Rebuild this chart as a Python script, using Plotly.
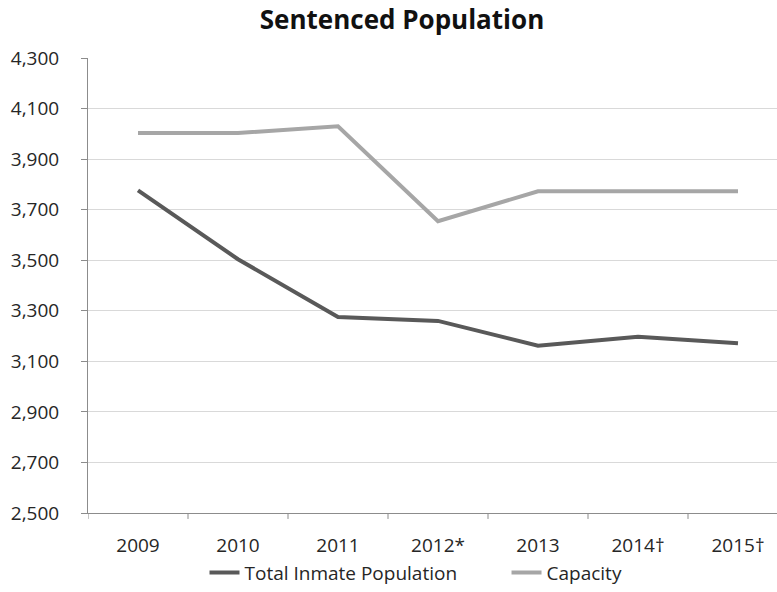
import plotly.graph_objects as go

years = ["2009", "2010", "2011", "2012*", "2013", "2014\u2020", "2015\u2020"]
total_inmates = [3776, 3504, 3275, 3260, 3162, 3197, 3172]
capacity = [4003, 4003, 4030, 3654, 3773, 3773, 3773]
y_ticks = list(range(2500, 4301, 200))

FONT = "'Open Sans', Lato, sans-serif"
GAP = "\u00a0" * 9  # extra room between the two legend entries

fig = go.Figure()
fig.add_trace(go.Scatter(
    x=list(range(len(years))), y=total_inmates, mode="lines",
    name="Total Inmate Population" + GAP,
    line=dict(color="#595959", width=4),
))
fig.add_trace(go.Scatter(
    x=list(range(len(years))), y=capacity, mode="lines",
    name="Capacity",
    line=dict(color="#a6a6a6", width=4),
))

fig.update_layout(
    width=777, height=592,
    margin=dict(l=88, r=0, t=58, b=75),
    paper_bgcolor="white", plot_bgcolor="white",
    font=dict(family=FONT, size=19, color="#262626"),
    title=dict(text="<b>Sentenced Population</b>", x=402 / 777, xref="container",
               xanchor="center", y=1 - 20 / 592, yref="container", yanchor="middle",
               font=dict(family=FONT, size=26, color="#111111")),
    showlegend=True,
    legend=dict(orientation="h", x=(416 - 88) / 689, xanchor="center",
                y=-0.131, yanchor="middle",
                font=dict(family=FONT, size=19, color="#262626"),
                tracegroupgap=0, bgcolor="rgba(0,0,0,0)"),
    xaxis=dict(
        range=[-0.5, 6.39], tickmode="array",
        tickvals=list(range(len(years))), ticktext=years,
        showgrid=False, zeroline=False,
        showline=True, linecolor="#8c8c8c", linewidth=1,
        ticks="", fixedrange=True, ticklabelstandoff=15,
    ),
    yaxis=dict(
        range=[2500, 4300], tickmode="array", tickvals=y_ticks,
        ticktext=[f"{v:,}" for v in y_ticks],
        showgrid=True, gridcolor="#d9d9d9", gridwidth=1,
        zeroline=False, showline=True, linecolor="#8c8c8c", linewidth=1,
        ticks="outside", ticklen=6, tickcolor="#8c8c8c", ticklabelstandoff=18,
    ),
)

# tick marks on category boundaries along the x axis
for i in range(len(years)):
    fig.add_shape(type="line", xref="x", yref="paper",
                  x0=i - 0.5, x1=i - 0.5, y0=0, y1=-6 / 459,
                  line=dict(color="#8c8c8c", width=1))

fig.write_html("out.html")
